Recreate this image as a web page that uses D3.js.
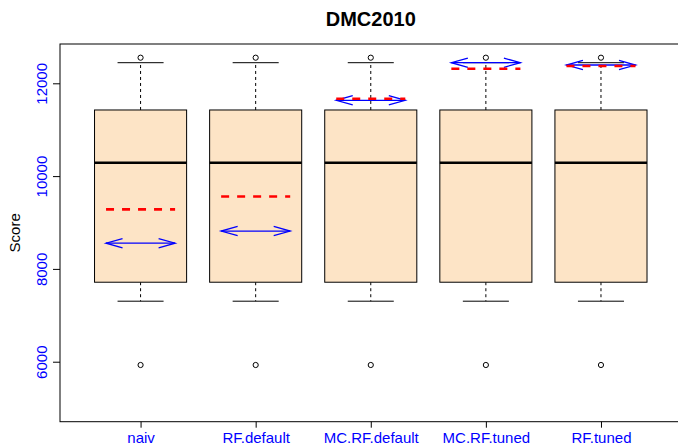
<!DOCTYPE html>
<html>
<head>
<meta charset="utf-8">
<script src="https://cdn.jsdelivr.net/npm/d3@7"></script>
<style>
  body { margin: 0; background: #fff; }
  svg { display: block; font-family: "Liberation Sans", Arial, Helvetica, sans-serif; }
</style>
</head>
<body>
<div class="chart"></div>
<script>
// Box plot of scores per method, with mean (red dashes) and estimate (blue arrow)

const categories = ["naiv", "RF.default", "MC.RF.default", "MC.RF.tuned", "RF.tuned"];
const lowerWhisker = [7304, 7304, 7304, 7304, 7304];
const q1 = [7713, 7713, 7713, 7713, 7713];
const median = [10289, 10289, 10289, 10289, 10289];
const q3 = [11425, 11425, 11425, 11425, 11425];
const upperWhisker = [12444, 12444, 12444, 12444, 12444];
const outliersLow = [5929, 5929, 5929, 5929, 5929];
const outliersHigh = [12552, 12552, 12552, 12552, 12552];
const meanScore = [9282, 9562, 11668, 12315, 12373];
const arrowScore = [8554, 8815, 11634, 12444, 12394];
const yTicks = [6000, 8000, 10000, 12000];

const W = 678, H = 446;
const plot = { left: 60, top: 44, bottom: 421.7 };

const svg = d3.select(".chart")
  .append("svg")
  .attr("width", W)
  .attr("height", H);

const x = d3.scaleLinear()
  .domain([0.3, 5.7])
  .range([plot.left, plot.left + 5.4 * 115.1]);

const y = d3.scaleLinear()
  .domain([4707, 12847])
  .range([plot.bottom, plot.top]);

const data = categories.map(function (c, i) {
  return {
    name: c, pos: i + 1,
    lo: lowerWhisker[i], q1: q1[i], med: median[i], q3: q3[i], hi: upperWhisker[i],
    out: [outliersLow[i], outliersHigh[i]],
    mean: meanScore[i], arrow: arrowScore[i]
  };
});

const boxes = svg.append("g").selectAll("g")
  .data(data)
  .enter()
  .append("g");

// whiskers (dashed)
boxes.append("line")
  .attr("x1", d => x(d.pos)).attr("x2", d => x(d.pos))
  .attr("y1", d => y(d.q3)).attr("y2", d => y(d.hi))
  .attr("stroke", "#000").attr("stroke-dasharray", "3,3");
boxes.append("line")
  .attr("x1", d => x(d.pos)).attr("x2", d => x(d.pos))
  .attr("y1", d => y(d.q1)).attr("y2", d => y(d.lo))
  .attr("stroke", "#000").attr("stroke-dasharray", "3,3");

// whisker caps
["lo", "hi"].forEach(function (k) {
  boxes.append("line")
    .attr("x1", d => x(d.pos - 0.2)).attr("x2", d => x(d.pos + 0.2))
    .attr("y1", d => y(d[k])).attr("y2", d => y(d[k]))
    .attr("stroke", "#000");
});

// box
boxes.append("rect")
  .attr("x", d => x(d.pos - 0.4))
  .attr("width", d => x(d.pos + 0.4) - x(d.pos - 0.4))
  .attr("y", d => y(d.q3))
  .attr("height", d => y(d.q1) - y(d.q3))
  .attr("fill", "#fde4c6")
  .attr("stroke", "#000");

// median
boxes.append("line")
  .attr("x1", d => x(d.pos - 0.4)).attr("x2", d => x(d.pos + 0.4))
  .attr("y1", d => y(d.med)).attr("y2", d => y(d.med))
  .attr("stroke", "#000").attr("stroke-width", 2.5);

// outliers
boxes.selectAll("circle")
  .data(d => d.out.map(v => ({ pos: d.pos, v: v })))
  .enter()
  .append("circle")
  .attr("cx", d => x(d.pos))
  .attr("cy", d => y(d.v))
  .attr("r", 2.6)
  .attr("fill", "none")
  .attr("stroke", "#000");

// blue double arrows
boxes.append("line")
  .attr("x1", d => x(d.pos - 0.3)).attr("x2", d => x(d.pos + 0.3))
  .attr("y1", d => y(d.arrow)).attr("y2", d => y(d.arrow))
  .attr("stroke", "#0000ff").attr("stroke-width", 1.3);
boxes.append("path")
  .attr("d", function (d) {
    const xl = x(d.pos - 0.3), xr = x(d.pos + 0.3), yy = y(d.arrow);
    return "M" + (xl + 16.5) + "," + (yy - 4.6) + "L" + xl + "," + yy + "L" + (xl + 16.5) + "," + (yy + 4.6) +
      "M" + (xr - 16.5) + "," + (yy - 4.6) + "L" + xr + "," + yy + "L" + (xr - 16.5) + "," + (yy + 4.6);
  })
  .attr("fill", "none")
  .attr("stroke", "#0000ff").attr("stroke-width", 1.3);

// red dashed mean
boxes.append("line")
  .attr("x1", d => x(d.pos - 0.3)).attr("x2", d => x(d.pos + 0.3))
  .attr("y1", d => y(d.mean)).attr("y2", d => y(d.mean))
  .attr("stroke", "#ff0000").attr("stroke-width", 2.6).attr("stroke-dasharray", "8,8");

// frame
svg.append("rect")
  .attr("x", plot.left).attr("y", plot.top)
  .attr("width", x.range()[1] - plot.left)
  .attr("height", plot.bottom - plot.top)
  .attr("fill", "none").attr("stroke", "#000");

// x axis
const xAxis = svg.append("g")
  .attr("transform", "translate(0," + plot.bottom + ")")
  .call(d3.axisBottom(x)
    .tickValues(data.map(d => d.pos))
    .tickFormat((d, i) => categories[i])
    .tickSize(6)
    .tickPadding(5));
xAxis.select(".domain").remove();
xAxis.selectAll("line").attr("stroke", "#000");
xAxis.selectAll("text")
  .attr("fill", "#0000ff")
  .style("font-size", "15px")
  .style("font-family", "'Liberation Sans', Arial, sans-serif");

// y axis
const yAxis = svg.append("g")
  .attr("transform", "translate(" + plot.left + ",0)")
  .call(d3.axisLeft(y).tickValues(yTicks).tickSize(7).tickFormat(d3.format("d")));
yAxis.select(".domain").remove();
yAxis.selectAll("line").attr("stroke", "#000");
yAxis.selectAll("text")
  .attr("fill", "#0000ff")
  .attr("x", null).attr("dy", null)
  .attr("text-anchor", "middle")
  .attr("transform", "translate(-13,0) rotate(-90)")
  .style("font-size", "15px")
  .style("font-family", "'Liberation Sans', Arial, sans-serif");

// titles
svg.append("text")
  .attr("text-anchor", "middle")
  .attr("x", (plot.left + x.range()[1]) / 2)
  .attr("y", 25.7)
  .style("font-size", "20px")
  .style("font-weight", "bold")
  .text("DMC2010");

svg.append("text")
  .attr("text-anchor", "middle")
  .attr("transform", "translate(20," + ((plot.top + plot.bottom) / 2) + ") rotate(-90)")
  .style("font-size", "15px")
  .text("Score");
</script>
</body>
</html>
